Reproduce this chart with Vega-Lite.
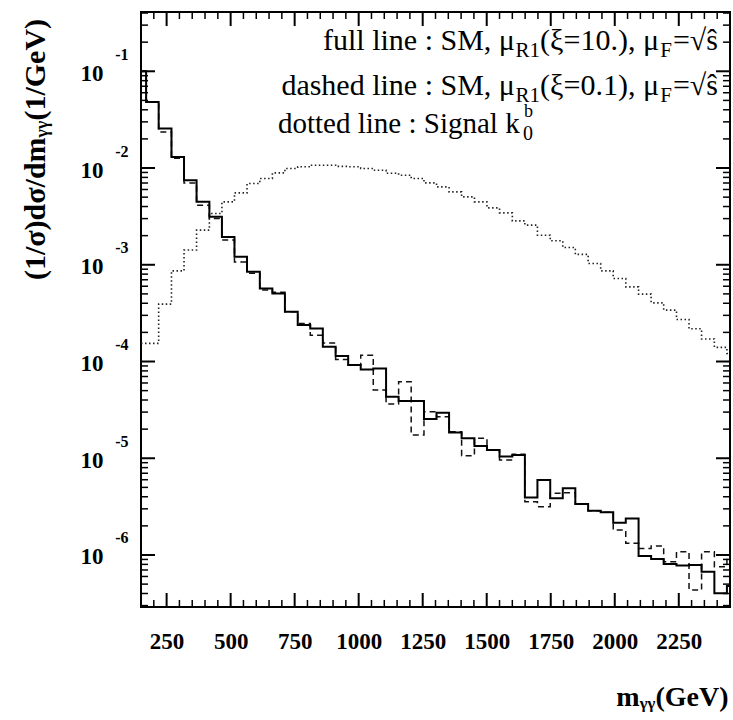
{
 "$schema": "https://vega.github.io/schema/vega-lite/v6.json",
 "width": 589, "height": 595,
 "autosize": "none",
 "padding": {"left": 141, "top": 12, "right": 3, "bottom": 113},
 "background": "white",
 "config": {
   "view": {"stroke": "black", "strokeWidth": 2},
   "axis": {"grid": false, "domain": false, "labelFont": "Liberation Serif", "labelFontWeight": "bold", "labelColor": "black", "tickColor": "black", "titleFont": "Liberation Serif", "titleFontWeight": "bold", "titleColor": "black", "labelOverlap": false, "labelFlush": false}
 },
 "datasets": {
  "full": [{"m":150,"v":0.1},{"m":170,"v":0.0482},{"m":219,"v":0.0256},{"m":269,"v":0.013},{"m":318,"v":0.00748},{"m":367,"v":0.00447},{"m":417,"v":0.00313},{"m":466,"v":0.00194},{"m":515,"v":0.00121},{"m":564,"v":0.000845},{"m":614,"v":0.000569},{"m":663,"v":0.000505},{"m":712,"v":0.000326},{"m":762,"v":0.000238},{"m":811,"v":0.00022},{"m":860,"v":0.000142},{"m":910,"v":0.000114},{"m":959,"v":0.0000918},{"m":1008,"v":0.0000828},{"m":1057,"v":0.0000849},{"m":1107,"v":0.0000432},{"m":1156,"v":0.000039},{"m":1205,"v":0.000039},{"m":1255,"v":0.0000254},{"m":1304,"v":0.0000295},{"m":1353,"v":0.0000185},{"m":1402,"v":0.0000161},{"m":1452,"v":0.0000134},{"m":1501,"v":0.0000122},{"m":1550,"v":0.0000104},{"m":1600,"v":0.0000108},{"m":1649,"v":0.00000394},{"m":1698,"v":0.00000596},{"m":1748,"v":0.00000385},{"m":1797,"v":0.00000489},{"m":1846,"v":0.00000336},{"m":1896,"v":0.00000287},{"m":1945,"v":0.00000276},{"m":1994,"v":0.00000216},{"m":2043,"v":0.00000239},{"m":2093,"v":9.77e-7},{"m":2142,"v":9.1e-7},{"m":2191,"v":8.07e-7},{"m":2241,"v":7.79e-7},{"m":2290,"v":7.89e-7},{"m":2339,"v":6.73e-7},{"m":2389,"v":4.02e-7},{"m":2438,"v":4.79e-7},{"m":2450,"v":4.79e-7}],
  "dashed": [{"m":150,"v":0.1},{"m":170,"v":0.0482},{"m":219,"v":0.0236},{"m":269,"v":0.0126},{"m":318,"v":0.00702},{"m":367,"v":0.00413},{"m":417,"v":0.00301},{"m":466,"v":0.0018},{"m":515,"v":0.00107},{"m":564,"v":0.000818},{"m":614,"v":0.000547},{"m":663,"v":0.000521},{"m":712,"v":0.000326},{"m":762,"v":0.000247},{"m":811,"v":0.000187},{"m":860,"v":0.000155},{"m":910,"v":0.000105},{"m":959,"v":0.0000918},{"m":1008,"v":0.0001164},{"m":1057,"v":0.0000507},{"m":1107,"v":0.0000363},{"m":1156,"v":0.0000617},{"m":1205,"v":0.0000174},{"m":1255,"v":0.0000302},{"m":1304,"v":0.0000268},{"m":1353,"v":0.0000188},{"m":1402,"v":0.0000106},{"m":1452,"v":0.0000161},{"m":1501,"v":0.0000122},{"m":1550,"v":0.00000957},{"m":1600,"v":0.000011},{"m":1649,"v":0.00000356},{"m":1698,"v":0.00000316},{"m":1748,"v":0.00000434},{"m":1797,"v":0.0000044},{"m":1846,"v":0.00000336},{"m":1896,"v":0.00000287},{"m":1945,"v":0.00000276},{"m":1994,"v":0.00000181},{"m":2043,"v":0.00000132},{"m":2093,"v":0.00000117},{"m":2142,"v":0.00000124},{"m":2191,"v":8.53e-7},{"m":2241,"v":0.00000108},{"m":2290,"v":4.35e-7},{"m":2339,"v":0.00000108},{"m":2389,"v":7.57e-7},{"m":2438,"v":9.59e-7},{"m":2450,"v":9.59e-7}],
  "dotted": [{"m":150,"v":0.000154},{"m":170,"v":0.000154},{"m":219,"v":0.000392},{"m":269,"v":0.000865},{"m":318,"v":0.00142},{"m":367,"v":0.00228},{"m":417,"v":0.00339},{"m":466,"v":0.00447},{"m":515,"v":0.00553},{"m":564,"v":0.00692},{"m":614,"v":0.0078},{"m":663,"v":0.0089},{"m":712,"v":0.00988},{"m":762,"v":0.0103},{"m":811,"v":0.0107},{"m":860,"v":0.0107},{"m":910,"v":0.0104},{"m":959,"v":0.0103},{"m":1008,"v":0.00988},{"m":1057,"v":0.00948},{"m":1107,"v":0.00883},{"m":1156,"v":0.00843},{"m":1205,"v":0.0078},{"m":1255,"v":0.00702},{"m":1304,"v":0.00638},{"m":1353,"v":0.00567},{"m":1402,"v":0.00503},{"m":1452,"v":0.00447},{"m":1501,"v":0.00387},{"m":1550,"v":0.00344},{"m":1600,"v":0.00284},{"m":1649,"v":0.00257},{"m":1698,"v":0.00202},{"m":1748,"v":0.00177},{"m":1797,"v":0.00151},{"m":1846,"v":0.00128},{"m":1896,"v":0.00103},{"m":1945,"v":0.000865},{"m":1994,"v":0.000722},{"m":2043,"v":0.000591},{"m":2093,"v":0.000497},{"m":2142,"v":0.000404},{"m":2191,"v":0.00034},{"m":2241,"v":0.000272},{"m":2290,"v":0.000218},{"m":2339,"v":0.000171},{"m":2389,"v":0.00014},{"m":2438,"v":0.000121},{"m":2450,"v":0.000121}],
  "xmaj": [{"m":250},{"m":500},{"m":750},{"m":1000},{"m":1250},{"m":1500},{"m":1750},{"m":2000},{"m":2250}],
  "xmin": [{"m":200},{"m":300},{"m":350},{"m":400},{"m":450},{"m":550},{"m":600},{"m":650},{"m":700},{"m":800},{"m":850},{"m":900},{"m":950},{"m":1050},{"m":1100},{"m":1150},{"m":1200},{"m":1300},{"m":1350},{"m":1400},{"m":1450},{"m":1550},{"m":1600},{"m":1650},{"m":1700},{"m":1800},{"m":1850},{"m":1900},{"m":1950},{"m":2050},{"m":2100},{"m":2150},{"m":2200},{"m":2300},{"m":2350},{"m":2400}],
  "ymaj": [{"v":1e-6},{"v":1e-5},{"v":1e-4},{"v":1e-3},{"v":1e-2},{"v":1e-1}],
  "ymin": [{"v":3e-7},{"v":4e-7},{"v":5e-7},{"v":6e-7},{"v":7e-7},{"v":8e-7},{"v":9e-7},{"v":2e-6},{"v":3e-6},{"v":4e-6},{"v":5e-6},{"v":6e-6},{"v":7e-6},{"v":8e-6},{"v":9e-6},{"v":2e-5},{"v":3e-5},{"v":4e-5},{"v":5e-5},{"v":6e-5},{"v":7e-5},{"v":8e-5},{"v":9e-5},{"v":2e-4},{"v":3e-4},{"v":4e-4},{"v":5e-4},{"v":6e-4},{"v":7e-4},{"v":8e-4},{"v":9e-4},{"v":2e-3},{"v":3e-3},{"v":4e-3},{"v":5e-3},{"v":6e-3},{"v":7e-3},{"v":8e-3},{"v":9e-3},{"v":2e-2},{"v":3e-2},{"v":4e-2},{"v":5e-2},{"v":6e-2},{"v":7e-2},{"v":8e-2},{"v":9e-2},{"v":0.2},{"v":0.3},{"v":0.4}],
  "one": [{}]
 },
 "resolve": {"scale": {"x": "shared", "y": "shared"}, "axis": {"x": "independent", "y": "independent"}},
 "layer": [
  {"data": {"name": "dotted"}, "mark": {"type": "line", "interpolate": "step-after", "stroke": "#222222", "strokeWidth": 1.6, "strokeDash": [1.5, 2.5], "clip": true},
   "encoding": {"x": {"field": "m", "type": "quantitative", "scale": {"type": "linear", "domain": [169.52, 2430.48], "nice": false, "zero": false}, "axis": null},
                "y": {"field": "v", "type": "quantitative", "scale": {"type": "log", "domain": [3.267e-7, 0.364], "nice": false}, "axis": null}}},
  {"data": {"name": "dashed"}, "mark": {"type": "line", "interpolate": "step-after", "stroke": "#111111", "strokeWidth": 1.5, "strokeDash": [6, 4], "clip": true},
   "encoding": {"x": {"field": "m", "type": "quantitative", "axis": null}, "y": {"field": "v", "type": "quantitative", "axis": null}}},
  {"data": {"name": "full"}, "mark": {"type": "line", "interpolate": "step-after", "stroke": "black", "strokeWidth": 2, "clip": true},
   "encoding": {"x": {"field": "m", "type": "quantitative", "axis": null}, "y": {"field": "v", "type": "quantitative", "axis": null}}},
  {"data": {"name": "xmaj"}, "mark": {"type": "rule", "color": "black", "strokeWidth": 2},
   "encoding": {"x": {"field": "m", "type": "quantitative", "axis": null}, "y": {"datum": 2.9e-7, "type": "quantitative", "axis": null}, "y2": {"datum": 4.05e-7}}},
  {"data": {"name": "xmin"}, "mark": {"type": "rule", "color": "black", "strokeWidth": 1.5},
   "encoding": {"x": {"field": "m", "type": "quantitative", "axis": null}, "y": {"datum": 2.9e-7, "type": "quantitative", "axis": null}, "y2": {"datum": 3.43e-7}}},
  {"data": {"name": "xmaj"}, "mark": {"type": "bar", "color": "black", "width": 2, "opacity": 1},
   "encoding": {"x": {"field": "m", "type": "quantitative", "axis": null}, "y": {"datum": 0.2937, "type": "quantitative", "axis": null}, "y2": {"datum": 0.41}}},
  {"data": {"name": "xmin"}, "mark": {"type": "bar", "color": "black", "width": 1.5, "opacity": 1},
   "encoding": {"x": {"field": "m", "type": "quantitative", "axis": null}, "y": {"datum": 0.347, "type": "quantitative", "axis": null}, "y2": {"datum": 0.41}}},
  {"data": {"name": "ymaj"}, "mark": {"type": "rule", "color": "black", "strokeWidth": 2},
   "encoding": {"y": {"field": "v", "type": "quantitative", "axis": null}, "x": {"datum": 150, "type": "quantitative", "axis": null}, "x2": {"datum": 204.7}}},
  {"data": {"name": "ymin"}, "mark": {"type": "rule", "color": "black", "strokeWidth": 1.5},
   "encoding": {"y": {"field": "v", "type": "quantitative", "axis": null}, "x": {"datum": 150, "type": "quantitative", "axis": null}, "x2": {"datum": 177.3}}},
  {"data": {"name": "ymaj"}, "mark": {"type": "bar", "color": "black", "height": 2, "orient": "horizontal", "opacity": 1},
   "encoding": {"y": {"field": "v", "type": "quantitative", "axis": null}, "x": {"datum": 2395.3, "type": "quantitative", "axis": null}, "x2": {"datum": 2450}}},
  {"data": {"name": "ymin"}, "mark": {"type": "bar", "color": "black", "height": 1.5, "orient": "horizontal", "opacity": 1},
   "encoding": {"y": {"field": "v", "type": "quantitative", "axis": null}, "x": {"datum": 2422.7, "type": "quantitative", "axis": null}, "x2": {"datum": 2450}}},
  {"data": {"name": "full"}, "mark": {"type": "point", "opacity": 0},
   "encoding": {
    "x": {"field": "m", "type": "quantitative", "axis": {"orient": "bottom", "values": [250,500,750,1000,1250,1500,1750,2000,2250], "format": "d", "ticks": false, "labelFontSize": 23, "labelPadding": 41, "labelBaseline": "alphabetic", "title": "mᵧᵧ(GeV)", "titleFontSize": 28, "titleX": 587, "titleY": 98, "titleAlign": "right", "titleAnchor": "end", "titleBaseline": "alphabetic"}},
    "y": {"field": "v", "type": "quantitative", "axis": {"orient": "left", "values": [1e-6,1e-5,1e-4,1e-3,1e-2,1e-1], "ticks": false, "labelExpr": "'10'", "labelFontSize": 23, "labelPadding": 38, "labelBaseline": "middle", "labelOffset": 2, "title": "(1/σ)dσ/dmᵧᵧ(1/GeV)", "titleFontSize": 30, "titleX": -106, "titleY": 137, "titleAngle": -90, "titleAlign": "center", "titleBaseline": "middle"}}}},
  {"data": {"name": "full"}, "mark": {"type": "point", "opacity": 0},
   "encoding": {
    "x": {"field": "m", "type": "quantitative", "axis": null},
    "y": {"field": "v", "type": "quantitative", "axis": {"orient": "left", "values": [1e-6,1e-5,1e-4,1e-3,1e-2,1e-1], "ticks": false, "labelExpr": "'' + round(log(datum.value)/LN10)", "labelFontSize": 16, "labelPadding": 13, "labelBaseline": "middle", "labelOffset": -17, "title": null}}}},
  {"data": {"name": "one"}, "mark": {"type": "text", "text": "=√ŝ", "align": "right", "baseline": "alphabetic", "font": "Liberation Serif", "fontSize": 30, "fill": "black"},
   "encoding": {"x": {"datum": 2403, "type": "quantitative", "axis": null}, "y": {"datum": 0.166, "type": "quantitative", "axis": null}}},
  {"data": {"name": "one"}, "mark": {"type": "text", "text": "F", "align": "right", "baseline": "alphabetic", "font": "Liberation Serif", "fontSize": 21, "fill": "black", "dx": -46, "dy": 7},
   "encoding": {"x": {"datum": 2403, "type": "quantitative", "axis": null}, "y": {"datum": 0.166, "type": "quantitative", "axis": null}}},
  {"data": {"name": "one"}, "mark": {"type": "text", "text": "(ξ=10.), μ", "align": "right", "baseline": "alphabetic", "font": "Liberation Serif", "fontSize": 30, "fill": "black", "dx": -59},
   "encoding": {"x": {"datum": 2403, "type": "quantitative", "axis": null}, "y": {"datum": 0.166, "type": "quantitative", "axis": null}}},
  {"data": {"name": "one"}, "mark": {"type": "text", "text": "R1", "align": "right", "baseline": "alphabetic", "font": "Liberation Serif", "fontSize": 21, "fill": "black", "dx": -178, "dy": 7},
   "encoding": {"x": {"datum": 2403, "type": "quantitative", "axis": null}, "y": {"datum": 0.166, "type": "quantitative", "axis": null}}},
  {"data": {"name": "one"}, "mark": {"type": "text", "text": "full line : SM, μ", "align": "right", "baseline": "alphabetic", "font": "Liberation Serif", "fontSize": 30, "fill": "black", "dx": -203},
   "encoding": {"x": {"datum": 2403, "type": "quantitative", "axis": null}, "y": {"datum": 0.166, "type": "quantitative", "axis": null}}},
  {"data": {"name": "one"}, "mark": {"type": "text", "text": "=√ŝ", "align": "right", "baseline": "alphabetic", "font": "Liberation Serif", "fontSize": 30, "fill": "black"},
   "encoding": {"x": {"datum": 2403, "type": "quantitative", "axis": null}, "y": {"datum": 0.0569, "type": "quantitative", "axis": null}}},
  {"data": {"name": "one"}, "mark": {"type": "text", "text": "F", "align": "right", "baseline": "alphabetic", "font": "Liberation Serif", "fontSize": 21, "fill": "black", "dx": -46, "dy": 7},
   "encoding": {"x": {"datum": 2403, "type": "quantitative", "axis": null}, "y": {"datum": 0.0569, "type": "quantitative", "axis": null}}},
  {"data": {"name": "one"}, "mark": {"type": "text", "text": "(ξ=0.1), μ", "align": "right", "baseline": "alphabetic", "font": "Liberation Serif", "fontSize": 30, "fill": "black", "dx": -59},
   "encoding": {"x": {"datum": 2403, "type": "quantitative", "axis": null}, "y": {"datum": 0.0569, "type": "quantitative", "axis": null}}},
  {"data": {"name": "one"}, "mark": {"type": "text", "text": "R1", "align": "right", "baseline": "alphabetic", "font": "Liberation Serif", "fontSize": 21, "fill": "black", "dx": -178, "dy": 7},
   "encoding": {"x": {"datum": 2403, "type": "quantitative", "axis": null}, "y": {"datum": 0.0569, "type": "quantitative", "axis": null}}},
  {"data": {"name": "one"}, "mark": {"type": "text", "text": "dashed line : SM, μ", "align": "right", "baseline": "alphabetic", "font": "Liberation Serif", "fontSize": 30, "fill": "black", "dx": -203},
   "encoding": {"x": {"datum": 2403, "type": "quantitative", "axis": null}, "y": {"datum": 0.0569, "type": "quantitative", "axis": null}}},
  {"data": {"name": "one"}, "mark": {"type": "text", "text": "dotted line : Signal k", "align": "left", "baseline": "alphabetic", "font": "Liberation Serif", "fontSize": 29, "fill": "black"},
   "encoding": {"x": {"datum": 685, "type": "quantitative", "axis": null}, "y": {"datum": 0.023, "type": "quantitative", "axis": null}}},
  {"data": {"name": "one"}, "mark": {"type": "text", "text": "0", "align": "left", "baseline": "alphabetic", "font": "Liberation Serif", "fontSize": 20, "fill": "black", "dx": 245, "dy": 7},
   "encoding": {"x": {"datum": 685, "type": "quantitative", "axis": null}, "y": {"datum": 0.023, "type": "quantitative", "axis": null}}},
  {"data": {"name": "one"}, "mark": {"type": "text", "text": "b", "align": "left", "baseline": "alphabetic", "font": "Liberation Serif", "fontSize": 18, "fill": "black", "dx": 246, "dy": -16},
   "encoding": {"x": {"datum": 685, "type": "quantitative", "axis": null}, "y": {"datum": 0.023, "type": "quantitative", "axis": null}}}
 ]
}
